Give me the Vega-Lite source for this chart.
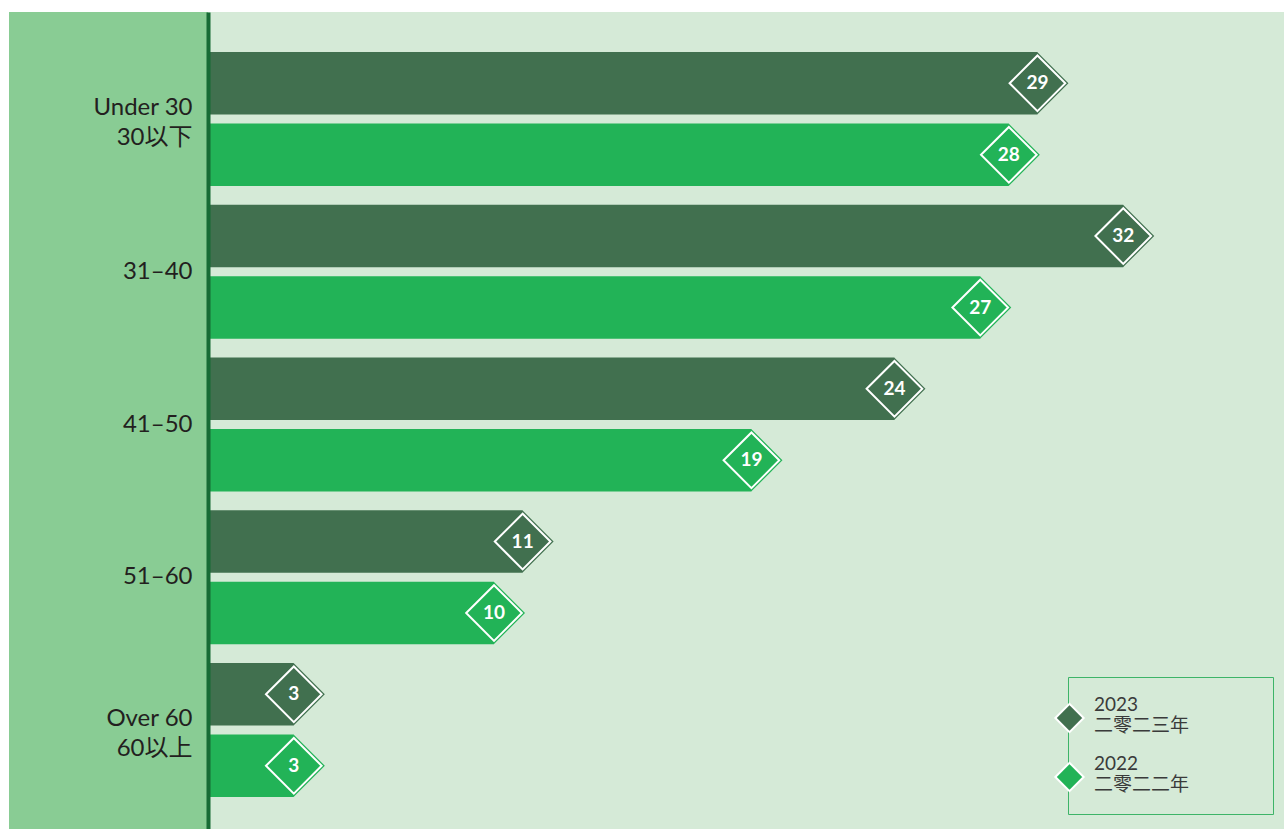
{
  "$schema": "https://vega.github.io/schema/vega-lite/v6.json",
  "width": 1284,
  "height": 829,
  "autosize": {"type": "fit", "contains": "padding"},
  "padding": {"left": 9, "top": 12, "right": 0, "bottom": 0},
  "background": "white",
  "config": {
    "view": {"fill": "#d5ead7", "stroke": null},
    "font": "Lato"
  },
  "data": {
    "values": [
      {"group": "Under 30|30以下", "year": "2023", "value": 29},
      {"group": "Under 30|30以下", "year": "2022", "value": 28},
      {"group": "31–40", "year": "2023", "value": 32},
      {"group": "31–40", "year": "2022", "value": 27},
      {"group": "41–50", "year": "2023", "value": 24},
      {"group": "41–50", "year": "2022", "value": 19},
      {"group": "51–60", "year": "2023", "value": 11},
      {"group": "51–60", "year": "2022", "value": 10},
      {"group": "Over 60|60以上", "year": "2023", "value": 3},
      {"group": "Over 60|60以上", "year": "2022", "value": 3}
    ]
  },
  "encoding": {
    "y": {
      "field": "group",
      "type": "nominal",
      "sort": null,
      "scale": {"paddingInner": 0.1227, "paddingOuter": 0.2357, "align": 0.556},
      "axis": {
        "title": null,
        "orient": "left",
        "offset": -199,
        "zindex": 2,
        "ticks": false,
        "domainColor": "#176b35",
        "domainWidth": 4,
        "labelExpr": "split(datum.label, '|')",
        "labelFont": "Lato, Noto Sans CJK TC",
        "labelFontSize": 24,
        "labelLineHeight": 30,
        "labelColor": "#231f20",
        "labelPadding": 16,
        "labelAlign": "right",
        "labelBaseline": "middle",
        "labelOffset": {"condition": {"test": "indexof(datum.value, '|') >= 0", "value": -11}, "value": 0}
      }
    },
    "yOffset": {
      "field": "year",
      "type": "nominal",
      "sort": ["2023", "2022"],
      "scale": {"paddingInner": 0.126, "paddingOuter": 0}
    },
    "x": {
      "field": "value",
      "type": "quantitative",
      "scale": {"domain": [-6.958, 37.62], "nice": false, "zero": false},
      "axis": null
    },
    "color": {
      "field": "year",
      "type": "nominal",
      "scale": {"domain": ["2023", "2022"], "range": ["#41704f", "#22b357"]},
      "legend": {
        "title": "\u00a0",
        "titleOrient": "right",
        "titlePadding": 66,
        "orient": "none",
        "legendX": 1059,
        "legendY": 665,
        "symbolType": "diamond",
        "symbolSize": 800,
        "symbolStrokeColor": "white",
        "symbolStrokeWidth": 2,
        "symbolOpacity": 1,
        "symbolOffset": -32,
        "strokeColor": "#3db468",
        "padding": 18,
        "rowPadding": 17,
        "labelOffset": 9,
        "labelFont": "Lato, Noto Sans CJK TC",
        "labelFontSize": 19,
        "labelLineHeight": 25,
        "labelBaseline": "line-bottom",
        "labelColor": "#3a3a3a",
        "labelExpr": "datum.label == '2023' ? ['2023', '二零二三年'] : ['2022', '二零二二年']",
        "encode": {"labels": {"update": {"dy": {"value": 5}}}, "symbols": {"update": {"y": {"value": 23}}}}
      }
    }
  },
  "layer": [
    {
      "mark": {"type": "rect", "color": "#89cc94"},
      "encoding": {
        "x": {"datum": -6.958, "type": "quantitative"},
        "x2": {"datum": 0},
        "y": {"value": 0},
        "y2": {"value": 829},
        "yOffset": null,
        "color": null
      }
    },
    {
      "mark": {"type": "bar"}
    },
    {
      "mark": {"type": "point", "shape": "diamond", "filled": true, "size": 3844, "opacity": 1}
    },
    {
      "mark": {"type": "point", "shape": "diamond", "filled": false, "size": 3100, "stroke": "white", "strokeWidth": 2, "opacity": 1},
      "encoding": {"color": null}
    },
    {
      "mark": {"type": "text", "color": "white", "fontWeight": "bold", "fontSize": 19, "font": "Lato", "align": "center", "baseline": "middle"},
      "encoding": {"text": {"field": "value", "type": "quantitative"}, "color": null}
    }
  ]
}
